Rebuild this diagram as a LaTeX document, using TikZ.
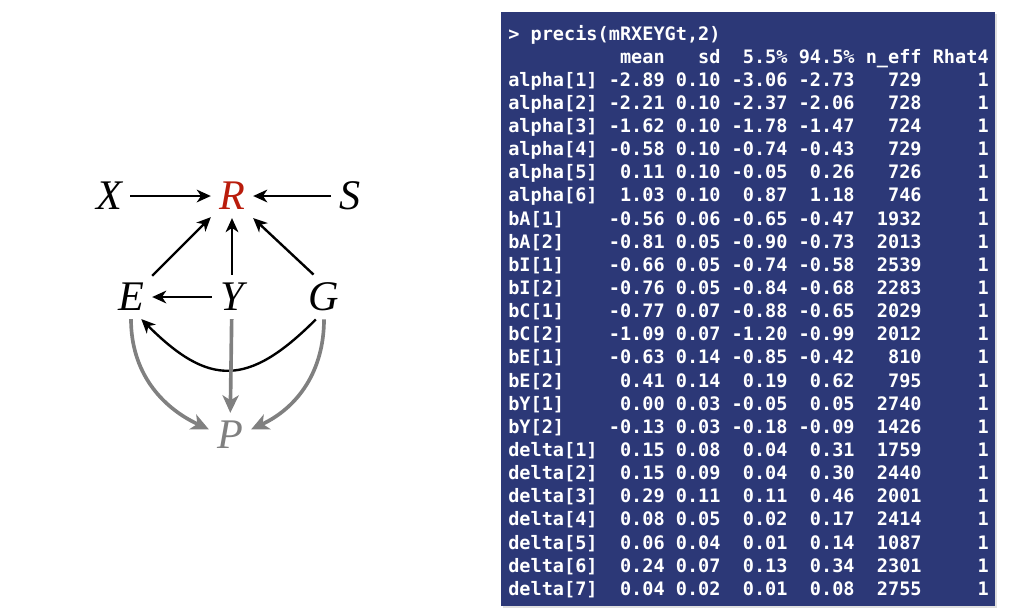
\documentclass[tikz,border=0pt]{standalone}
\usepackage{fontspec}
\setmonofont{DejaVu Sans Mono}
\newfontfamily\dagfont{Liberation Serif}
\usetikzlibrary{shadows, arrows.meta}
\definecolor{consoleblue}{RGB}{44,56,119}
\definecolor{outcomered}{RGB}{185,28,12}
\definecolor{daggray}{RGB}{128,128,128}

\begin{document}
\begin{tikzpicture}[
        every node/.style={font=\dagfont\itshape\fontsize{30}{32}\selectfont},
        var/.style={inner sep=0.2cm},
        arrow/.style={->, >={Stealth[length=10pt, width=9pt, inset=3pt]},
            line width=1.7pt},
        grayarrow/.style={->, >={Stealth[length=12.5pt, width=11.5pt, inset=3.5pt]},
            line width=2.6pt, draw=daggray},
        panel/.style={rectangle, fill=consoleblue,
            minimum width=12.35cm, minimum height=14.85cm,
            drop shadow={shadow xshift=0.05cm, shadow yshift=-0.05cm, opacity=0.25}},
        console/.style={font=\ttfamily\bfseries\fontsize{13.2}{16.46}\selectfont,
            text=white, inner sep=0pt}
      ]
      \useasboundingbox (0, 0) rectangle (25.5, -15.35);
      % the DAG
      \node[var] (X) at (2.725, -4.9) {X};
      \node[var, text=outcomered] (R) at (5.8, -4.9) {R};
      \node[var] (S) at (8.75, -4.9) {S};
      \node[var] (E) at (3.275, -7.425) {E};
      \node[var] (Y) at (5.8, -7.425) {Y};
      \node[var] (G) at (8.1, -7.425) {G};
      \node[var, text=daggray] (P) at (5.75, -10.875) {P};
      \draw[arrow] (X) -- (R);
      \draw[arrow] (S) -- (R);
      \draw[arrow] (E) -- (R);
      \draw[arrow] (Y) -- (R);
      \draw[arrow] (G.115) -- (R.south east);
      \draw[arrow] (Y) -- (E);
      \draw[arrow] (G.250) to[out=225, in=-45, looseness=1.4] (E.-65);
      \draw[grayarrow] (E.south) to[out=-90, in=155] (P.165);
      \draw[grayarrow] (Y) -- (P);
      \draw[grayarrow] (G.south) to[out=-90, in=25] (P.15);
      % the console output
      \node[panel] (panel) at (18.7, -7.725) {};
      \node[console, anchor=base west] (precis) at (12.7, -1.0)
      {\setlength{\tabcolsep}{0.301em}%
       \begin{tabular}[t]{@{}lrrrrrr@{}}
        \multicolumn{7}{@{}l}{> precis(mRXEYGt,2)}\\
                 & mean &   sd & 5.5\% & 94.5\% & n\_eff & Rhat4\\
        alpha[1] & -2.89 & 0.10 & -3.06 & -2.73 &  729 & 1\\
        alpha[2] & -2.21 & 0.10 & -2.37 & -2.06 &  728 & 1\\
        alpha[3] & -1.62 & 0.10 & -1.78 & -1.47 &  724 & 1\\
        alpha[4] & -0.58 & 0.10 & -0.74 & -0.43 &  729 & 1\\
        alpha[5] &  0.11 & 0.10 & -0.05 &  0.26 &  726 & 1\\
        alpha[6] &  1.03 & 0.10 &  0.87 &  1.18 &  746 & 1\\
        bA[1]    & -0.56 & 0.06 & -0.65 & -0.47 & 1932 & 1\\
        bA[2]    & -0.81 & 0.05 & -0.90 & -0.73 & 2013 & 1\\
        bI[1]    & -0.66 & 0.05 & -0.74 & -0.58 & 2539 & 1\\
        bI[2]    & -0.76 & 0.05 & -0.84 & -0.68 & 2283 & 1\\
        bC[1]    & -0.77 & 0.07 & -0.88 & -0.65 & 2029 & 1\\
        bC[2]    & -1.09 & 0.07 & -1.20 & -0.99 & 2012 & 1\\
        bE[1]    & -0.63 & 0.14 & -0.85 & -0.42 &  810 & 1\\
        bE[2]    &  0.41 & 0.14 &  0.19 &  0.62 &  795 & 1\\
        bY[1]    &  0.00 & 0.03 & -0.05 &  0.05 & 2740 & 1\\
        bY[2]    & -0.13 & 0.03 & -0.18 & -0.09 & 1426 & 1\\
        delta[1] &  0.15 & 0.08 &  0.04 &  0.31 & 1759 & 1\\
        delta[2] &  0.15 & 0.09 &  0.04 &  0.30 & 2440 & 1\\
        delta[3] &  0.29 & 0.11 &  0.11 &  0.46 & 2001 & 1\\
        delta[4] &  0.08 & 0.05 &  0.02 &  0.17 & 2414 & 1\\
        delta[5] &  0.06 & 0.04 &  0.01 &  0.14 & 1087 & 1\\
        delta[6] &  0.24 & 0.07 &  0.13 &  0.34 & 2301 & 1\\
        delta[7] &  0.04 & 0.02 &  0.01 &  0.08 & 2755 & 1
       \end{tabular}};
    \end{tikzpicture}
\end{document}
